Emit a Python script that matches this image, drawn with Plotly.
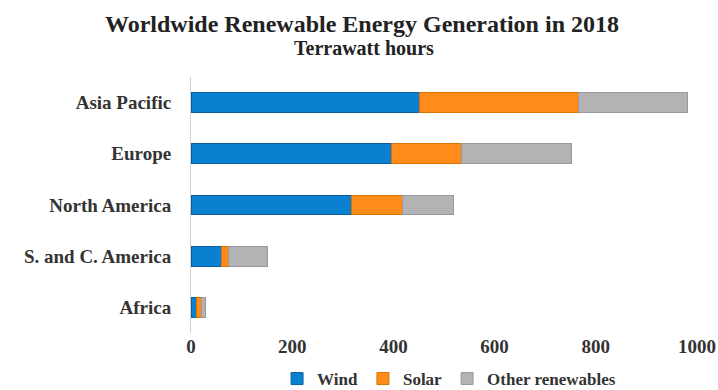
import plotly.graph_objects as go

regions = ["Africa", "S. and C. America", "North America", "Europe", "Asia Pacific"]
wind = [10, 61, 317, 397, 452]
solar = [10, 13, 101, 138, 313]
other = [9, 77, 100, 217, 217]
series_names = ["Wind", "Solar", "Other renewables"]
colors = ["#0a80d0", "#ff8c1a", "#b3b3b3"]
edge_colors = ["#0a5fa0", "#d97000", "#999999"]
x_ticks = [0, 200, 400, 600, 800, 1000]

FONT = "Liberation Serif"

fig = go.Figure()
for name, vals, c, ec in zip(series_names, [wind, solar, other], colors, edge_colors):
    fig.add_trace(go.Bar(
        y=regions, x=vals, name=name, orientation="h",
        marker=dict(color=c, line=dict(color=ec, width=1)),
        width=0.39,
    ))

fig.update_layout(
    barmode="stack",
    width=718, height=390,
    margin=dict(l=191, r=21, t=77, b=57, autoexpand=False),
    paper_bgcolor="white", plot_bgcolor="white",
    font=dict(family=FONT, color="#222222"),
    showlegend=True,
    legend=dict(orientation="h", x=0.51, xanchor="center", y=-(379 - 333) / 256, yanchor="middle",
                font=dict(family=FONT, size=17, color="#333333", weight="bold"),
                itemwidth=30, traceorder="normal", tracegroupgap=0),
    xaxis=dict(range=[0, 1000], tickvals=x_ticks, ticktext=[str(v) for v in x_ticks],
               showgrid=False, zeroline=False, showline=False,
               tickfont=dict(family=FONT, size=19, color="#333333", weight="bold"),
               ticks="", automargin=False),
    yaxis=dict(showgrid=False, zeroline=False, showline=True, linecolor="#d0d0d0", linewidth=1,
               ticks="", ticklabelstandoff=15,
               tickfont=dict(family=FONT, size=19, color="#333333", weight="bold"),
               automargin=False),
    annotations=[
        dict(text="<b>Worldwide Renewable Energy Generation in 2018</b>", xref="paper", yref="paper",
             x=(362 - 191) / 506, y=1 + (77 - 24) / 256, xanchor="center", yanchor="middle",
             showarrow=False, font=dict(family=FONT, size=24, color="#222222")),
        dict(text="<b>Terrawatt hours</b>", xref="paper", yref="paper",
             x=(364 - 191) / 506, y=1 + (77 - 48) / 256, xanchor="center", yanchor="middle",
             showarrow=False, font=dict(family=FONT, size=20, color="#222222")),
    ],
)

fig.write_html("out.html")
